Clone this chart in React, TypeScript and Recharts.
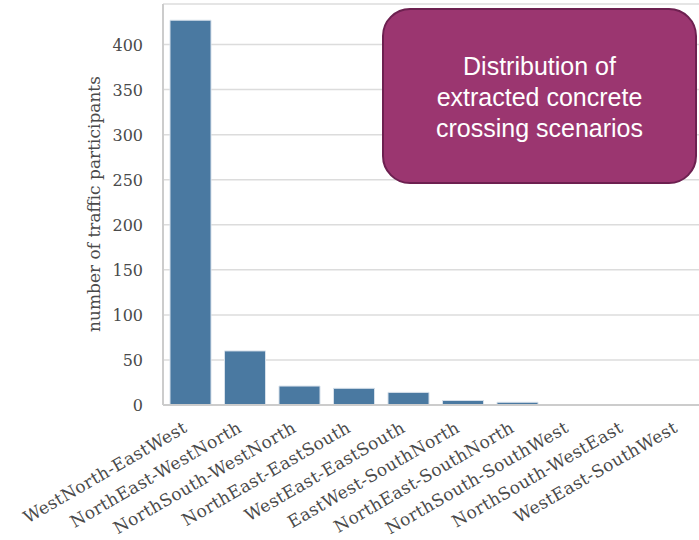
import { BarChart, Bar, XAxis, YAxis, CartesianGrid } from 'recharts';

const scenarios = [
  'WestNorth-EastWest',
  'NorthEast-WestNorth',
  'NorthSouth-WestNorth',
  'NorthEast-EastSouth',
  'WestEast-EastSouth',
  'EastWest-SouthNorth',
  'NorthEast-SouthNorth',
  'NorthSouth-SouthWest',
  'NorthSouth-WestEast',
  'WestEast-SouthWest',
];

const participants = [427, 60, 21, 18.5, 14, 5, 3, 0, 0, 0];

const yTicks = [0, 50, 100, 150, 200, 250, 300, 350, 400];

const boxLines = ['Distribution of', 'extracted concrete', 'crossing scenarios'];

const data = scenarios.map((name, i) => ({ name, count: participants[i] }));

const serif = '"DejaVu Serif", serif';

function ScenarioTick(props: any) {
  const { x, y, payload } = props;
  return (
    <g transform={`translate(${x - 2},${y + 26})`}>
      <text
        x={0}
        y={0}
        textAnchor="end"
        transform="rotate(-30)"
        fill="#4a4a4a"
        fontSize={17}
        letterSpacing={0.4}
        fontFamily={serif}
      >
        {payload.value}
      </text>
    </g>
  );
}

function ValueTick(props: any) {
  const { y, payload } = props;
  return (
    <text
      x={143}
      y={y}
      dy={6}
      textAnchor="end"
      fill="#4a4a4a"
      fontSize={16}
      fontFamily={serif}
    >
      {payload.value}
    </text>
  );
}

function YLabel() {
  return (
    <text
      x={100}
      y={204}
      transform="rotate(-90, 100, 204)"
      textAnchor="middle"
      fill="#4a4a4a"
      fontSize={17}
      fontFamily={serif}
    >
      number of traffic participants
    </text>
  );
}

export default function App() {
  // the original figure is cropped on the right, so the plot runs past 699px
  return (
    <div style={{ position: 'absolute', left: 0, top: 0, width: 699, height: 540, overflow: 'hidden', background: '#fff' }}>
      <BarChart width={710} height={540} data={data} margin={{ top: 4, right: 2, bottom: 0, left: 0 }}>
        <CartesianGrid vertical={false} stroke="#dcdcdc" strokeWidth={1.5} />
        <XAxis
          dataKey="name"
          interval={0}
          height={135}
          tick={<ScenarioTick />}
          tickLine={false}
          tickSize={0}
          tickMargin={0}
          axisLine={{ stroke: '#cccccc', strokeWidth: 2 }}
        />
        <YAxis
          width={163}
          domain={[0, 445]}
          ticks={yTicks}
          tickLine={false}
          axisLine={{ stroke: '#cccccc', strokeWidth: 2 }}
          tick={<ValueTick />}
          label={<YLabel />}
        />
        <Bar
          dataKey="count"
          fill="#4a79a1"
          stroke="#d6e0ea"
          strokeWidth={1}
          barSize={41}
          isAnimationActive={false}
        />
      </BarChart>
      <div
        style={{
          position: 'absolute',
          left: 382,
          top: 8,
          width: 315,
          height: 176,
          boxSizing: 'border-box',
          borderRadius: 28,
          background: '#9b3670',
          border: '2px solid #6d2050',
          color: '#fff',
          fontFamily: '"Liberation Sans", Arial, sans-serif',
          fontSize: 25,
          lineHeight: '31px',
          display: 'flex',
          flexDirection: 'column',
          justifyContent: 'center',
          alignItems: 'center',
          paddingTop: 2,
        }}
      >
        {boxLines.map((line) => (
          <div key={line}>{line}</div>
        ))}
      </div>
    </div>
  );
}
